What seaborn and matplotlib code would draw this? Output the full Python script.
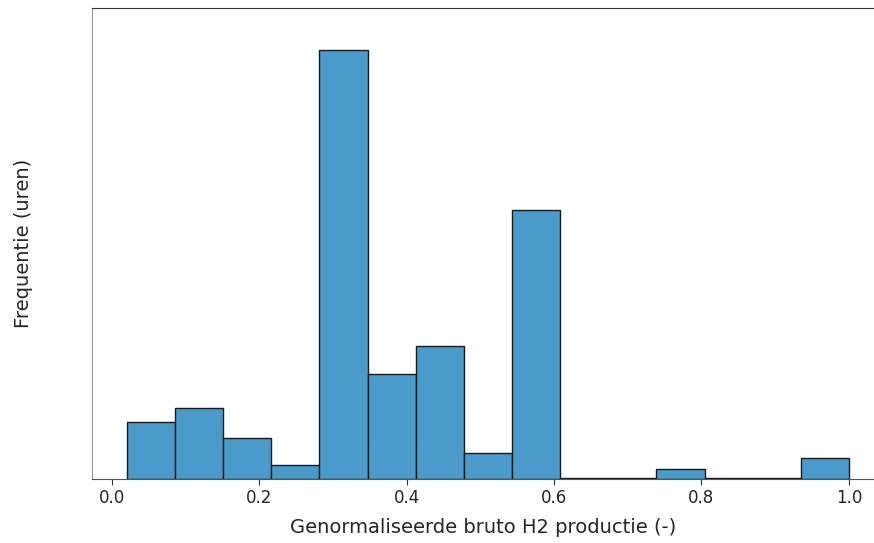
import numpy as np
import pandas as pd
import matplotlib
matplotlib.use("Agg")
import matplotlib.pyplot as plt
import seaborn as sns

# histogram data, frequency in hours
bin_start = 0.0204
bin_end = 1.0
n_bins = 15
counts = [570, 710, 410, 140, 4290, 1050, 1330, 260, 2690, 10, 10, 100, 5, 10, 210]

edges = np.linspace(bin_start, bin_end, n_bins + 1)
centers = (edges[:-1] + edges[1:]) / 2
df = pd.DataFrame({'h2': centers, 'uren': counts})

sns.set_style("white")
plt.rcParams['font.family'] = ['DejaVu Sans']

fig = plt.figure(figsize=(8.74, 5.43), dpi=100)
ax = fig.add_axes([0.105, 0.118, 0.895, 0.867])

sns.histplot(data=df, x='h2', weights='uren', bins=list(edges), color='#4a9bca', alpha=1,
             edgecolor='#1a1a1a', linewidth=1, ax=ax)

ax.set_xlim(-0.0271, 1.034)
ax.set_ylim(0, 4710)
ax.set_yticks([])
ax.set_xticks([0.0, 0.2, 0.4, 0.6, 0.8, 1.0])
ax.tick_params(axis='x', labelsize=12, length=4, bottom=True, color='#333333')
ax.set_xlabel('Genormaliseerde bruto H2 productie (-)', fontsize=14, labelpad=8)
ax.set_ylabel('Frequentie (uren)', fontsize=14, labelpad=42)

ax.spines['right'].set_visible(False)
ax.spines['left'].set_color('#999999')
ax.spines['top'].set_color('#333333')
ax.spines['bottom'].set_color('#555555')

plt.savefig('out.png', dpi=100)
